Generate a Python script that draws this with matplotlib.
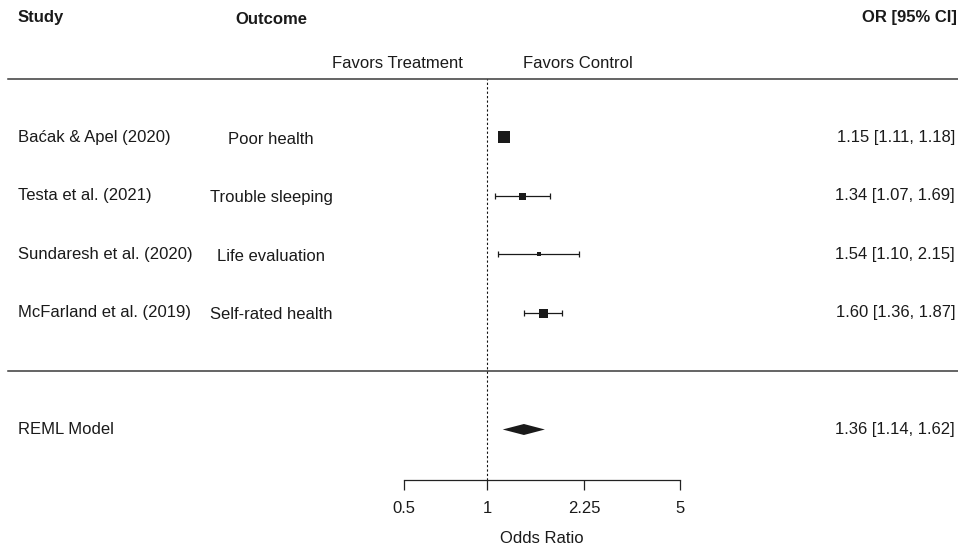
import numpy as np
import matplotlib
matplotlib.use("Agg")
import matplotlib.pyplot as plt
from matplotlib.ticker import FixedLocator, FixedFormatter, NullLocator
import matplotlib.transforms as mtransforms

plt.rcParams['font.family'] = ['Liberation Sans', 'DejaVu Sans']

# ---------------- data ----------------
studies = ["Baćak & Apel (2020)", "Testa et al. (2021)",
           "Sundaresh et al. (2020)", "McFarland et al. (2019)"]
outcomes = ["Poor health", "Trouble sleeping", "Life evaluation", "Self-rated health"]
or_est = [1.15, 1.34, 1.54, 1.60]
ci_low = [1.11, 1.07, 1.10, 1.36]
ci_high = [1.18, 1.69, 2.15, 1.87]
pooled_label = "REML Model"
pooled_est = 1.36
pooled_low = 1.14
pooled_high = 1.62
tick_values = [0.5, 1, 2.25, 5]
tick_labels = ["0.5", "1", "2.25", "5"]

# ---------------- styling ----------------
square_px = [12, 7, 4, 9]
W, H, DPI = 958, 545, 100
px_per_ln = 120.0
ref_px = 487.0
row_px = 58.5
row4_px = 137.0
FS = 12
txt_color = '#1a1a1a'

fig = plt.figure(figsize=(W / DPI, H / DPI), dpi=DPI)
ax = fig.add_axes([0, 0, 1, 1])
ax.set_xscale('log')
ax.set_xlim(np.exp(-ref_px / px_per_ln), np.exp((W - ref_px) / px_per_ln))
ax.set_ylim(4 - (H - row4_px) / row_px, 4 + row4_px / row_px)
for s in ['top', 'left', 'right']:
    ax.spines[s].set_visible(False)
ax.yaxis.set_visible(False)
ax.patch.set_visible(False)

rows = np.arange(len(studies), 0, -1)  # 4,3,2,1
pooled_row = -1
top_line = len(studies) + 1
axis_y = -1.863

# axis
ax.spines['bottom'].set_position(('data', axis_y))
ax.spines['bottom'].set_bounds(tick_values[0], tick_values[-1])
ax.spines['bottom'].set_color('#222222')
ax.spines['bottom'].set_linewidth(0.9)
ax.xaxis.set_major_locator(FixedLocator(tick_values))
ax.xaxis.set_major_formatter(FixedFormatter(tick_labels))
ax.xaxis.set_minor_locator(NullLocator())
ax.tick_params(axis='x', direction='out', length=7.2, width=0.9, color='#222222',
               labelsize=FS, pad=8, labelcolor=txt_color)

ax.text(np.sqrt(tick_values[0] * tick_values[-1]), 4 - (538.5 - row4_px) / row_px,
        "Odds Ratio", ha='center', va='center', fontsize=FS, color=txt_color)

# horizontal separators
xmin_frac = 8 / W
ax.axhline(top_line, xmin=xmin_frac, xmax=1, color='#3a3a3a', lw=1.1)
ax.axhline(0, xmin=xmin_frac, xmax=1, color='#3a3a3a', lw=1.1)

# reference line
ax.plot([1, 1], [axis_y, top_line], color='#111111', lw=0.8, ls=(0, (2, 2)))

# CIs and squares
for i in range(len(studies)):
    ax.errorbar(or_est[i], rows[i],
                xerr=[[or_est[i] - ci_low[i]], [ci_high[i] - or_est[i]]],
                fmt='none', ecolor='#1a1a1a', elinewidth=0.9, capsize=2.5,
                capthick=0.9)
    ax.plot(or_est[i], rows[i], marker='s', color='#1a1a1a',
            markersize=square_px[i] / (DPI / 72), markeredgewidth=0, ls='none')

# pooled diamond
hh = 5.5 / row_px
ax.fill([pooled_low, pooled_est, pooled_high, pooled_est],
        [pooled_row, pooled_row + hh, pooled_row, pooled_row - hh],
        color='#1a1a1a', lw=0)

# text columns
tr = mtransforms.blended_transform_factory(ax.transAxes, ax.transData)
study_x = 18 / W
outcome_x = 271 / W
or_x = 955 / W
off = 2 / row_px

ax.text(study_x, 4 + (row4_px - 17.5) / row_px, "Study", transform=tr, ha='left',
        va='center', fontsize=FS, fontweight='bold', color=txt_color)
ax.text(outcome_x, 4 + (row4_px - 19.5) / row_px, "Outcome", transform=tr, ha='center',
        va='center', fontsize=FS, fontweight='bold', color=txt_color)
ax.text(957 / W, 4 + (row4_px - 17.5) / row_px, "OR [95% CI]", transform=tr, ha='right',
        va='center', fontsize=FS, fontweight='bold', color=txt_color)

fav_y = 4 + (row4_px - 63) / row_px
ax.annotate("Favors Treatment", xy=(1, fav_y), xytext=(-24 * 72 / DPI, 0),
            textcoords='offset points', ha='right', va='center', fontsize=FS,
            color=txt_color)
ax.annotate("Favors Control", xy=(1, fav_y), xytext=(36 * 72 / DPI, 0),
            textcoords='offset points', ha='left', va='center', fontsize=FS,
            color=txt_color)

for i in range(len(studies)):
    ax.text(study_x, rows[i], studies[i], transform=tr, ha='left', va='center',
            fontsize=FS, color=txt_color)
    ax.text(outcome_x, rows[i] - off, outcomes[i], transform=tr, ha='center',
            va='center', fontsize=FS, color=txt_color)
    ax.text(or_x, rows[i], f"{or_est[i]:.2f} [{ci_low[i]:.2f}, {ci_high[i]:.2f}]",
            transform=tr, ha='right', va='center', fontsize=FS, color=txt_color)

ax.text(study_x, pooled_row, pooled_label, transform=tr, ha='left', va='center',
        fontsize=FS, color=txt_color)
ax.text(or_x, pooled_row, f"{pooled_est:.2f} [{pooled_low:.2f}, {pooled_high:.2f}]",
        transform=tr, ha='right', va='center', fontsize=FS, color=txt_color)

fig.savefig("out.png", dpi=DPI)
